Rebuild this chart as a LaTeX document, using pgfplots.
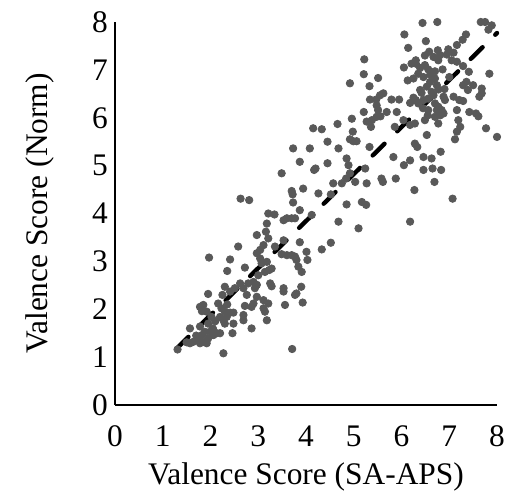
\documentclass[border=0pt]{standalone}
\usepackage{pgfplots}
\pgfplotsset{compat=1.18}
\usepackage{fontspec}
\setmainfont{Liberation Serif}
\definecolor{ptgray}{HTML}{595959}
\begin{document}
\begin{tikzpicture}[font=\fontsize{15.7}{18}\selectfont]
\begin{axis}[
  scale only axis, width=191pt, height=191.5pt,
  xmin=0, xmax=8, ymin=0, ymax=8,
  xtick={0,1,...,8}, ytick={0,1,...,8},
  axis lines=left, axis line style={-, line width=1pt, black},
  major tick length=0pt,
  /pgf/number format/assume math mode=true,
  tick label style={font=\fontsize{15.7}{18}\selectfont, black},
  xticklabel style={yshift=-7pt},
  xlabel={Valence Score (SA-APS)},
  ylabel={Valence Score (Norm)},
  xlabel style={at={(axis description cs:0.5,-0.188)}, anchor=center, font=\fontsize{15.7}{18}\selectfont},
  ylabel style={at={(axis description cs:-0.196,0.5)}, anchor=center, font=\fontsize{15.7}{18}\selectfont},
  clip=false,
]
\addplot[only marks, mark=*, mark size=1.85pt, mark options={draw=ptgray, fill=ptgray}] table {
x y
6.44 7.98
6.75 8.00
7.66 8.00
7.75 8.00
7.89 7.93
7.82 7.84
6.06 7.74
7.35 7.74
7.28 7.63
6.51 7.60
7.16 7.52
6.14 7.46
6.98 7.43
7.09 7.36
6.95 7.32
6.76 7.41
6.58 7.38
6.49 7.30
6.67 7.27
6.77 7.20
6.81 7.31
5.22 7.22
7.16 7.17
7.05 7.20
6.21 7.13
6.30 7.13
6.05 7.05
6.39 7.04
6.49 7.10
6.56 7.01
6.70 6.97
6.86 7.01
7.41 6.96
7.29 7.08
7.84 6.92
5.21 6.91
5.51 6.83
6.13 6.78
4.92 6.72
5.33 6.66
6.25 6.82
6.35 6.92
6.46 6.85
6.60 6.75
6.70 6.82
6.53 6.65
6.63 6.54
6.74 6.68
6.77 6.59
7.36 6.75
7.29 6.68
7.50 6.68
7.39 6.58
7.68 6.61
7.68 6.51
7.63 6.44
6.39 6.58
6.42 6.52
6.25 6.42
6.30 6.37
6.35 6.30
6.18 6.31
6.46 6.37
6.56 6.40
6.67 6.47
6.70 6.30
6.88 6.44
7.09 6.44
7.21 6.37
7.29 6.35
6.91 6.37
5.34 6.38
5.47 6.38
5.62 6.51
5.55 6.47
5.79 6.38
5.95 6.38
5.48 6.26
5.21 6.12
5.51 6.16
5.69 6.12
5.90 6.12
5.48 6.02
5.38 5.95
5.56 6.03
4.96 5.98
5.27 5.92
5.36 5.81
6.04 5.95
6.18 5.85
6.28 5.88
6.49 5.95
6.56 6.16
6.74 6.16
6.77 6.23
6.84 6.16
6.88 6.09
6.81 6.05
6.70 6.02
6.77 5.88
7.16 6.16
7.42 6.12
7.56 6.09
7.61 6.03
7.19 5.95
7.23 5.81
7.16 5.71
6.53 5.64
7.12 5.55
4.66 5.87
4.15 5.78
4.33 5.76
5.86 5.81
7.77 5.78
8.00 5.60
4.98 5.71
4.92 5.55
5.06 5.51
4.99 5.51
3.73 5.36
4.08 5.36
4.45 5.50
4.68 5.36
5.33 5.39
6.28 5.46
6.33 5.39
3.87 5.08
4.17 4.91
4.20 4.94
4.45 5.05
4.89 5.01
4.85 5.15
5.24 4.94
5.83 5.18
6.05 5.01
6.18 5.11
6.46 5.18
6.63 5.15
6.82 5.29
6.65 4.94
6.83 4.91
6.46 4.91
3.49 4.84
4.92 4.84
5.03 4.66
5.27 4.63
5.58 4.73
5.61 4.66
5.88 4.73
4.57 4.63
4.75 4.63
4.84 4.73
3.70 4.47
3.72 4.40
3.94 4.52
4.26 4.42
4.52 4.40
2.63 4.31
2.81 4.28
3.73 4.23
4.85 4.19
5.17 4.24
5.26 4.18
6.27 4.49
6.69 4.66
7.07 4.31
3.21 4.00
3.34 3.98
3.87 4.07
4.12 3.97
3.53 3.86
3.60 3.90
3.70 3.90
3.77 3.90
4.68 3.83
6.18 3.83
5.10 3.69
2.97 3.55
3.18 3.79
3.16 3.62
3.21 3.48
3.35 3.31
3.53 3.44
3.87 3.40
4.33 3.25
4.52 3.39
2.58 3.31
1.97 3.08
2.41 3.04
3.11 3.34
3.04 3.24
2.97 3.17
3.49 3.15
3.60 3.13
3.70 3.13
3.77 3.10
3.80 3.03
3.84 2.89
3.91 2.78
4.01 3.20
4.03 3.03
3.04 3.06
3.07 2.96
3.18 2.99
3.28 2.85
3.23 2.82
3.14 2.78
3.00 2.71
2.72 2.87
2.35 2.80
2.30 2.47
2.41 2.37
2.51 2.44
2.62 2.54
2.69 2.44
2.79 2.54
2.90 2.57
2.97 2.51
2.93 2.44
2.76 2.30
3.25 2.54
3.28 2.48
3.53 2.44
3.53 2.37
3.90 2.47
3.77 2.30
3.80 2.33
1.95 2.32
2.97 2.26
3.11 2.19
3.21 2.12
2.90 2.12
2.86 2.05
2.72 2.07
3.56 2.09
3.93 2.14
1.78 2.05
1.85 2.09
1.92 1.95
1.82 1.96
2.16 2.12
2.23 2.02
2.30 1.95
2.41 1.93
2.48 1.93
2.20 1.84
2.27 1.77
2.34 1.84
2.30 1.70
2.02 1.84
3.11 2.02
3.14 1.95
2.69 1.88
2.69 1.77
3.18 1.77
2.48 1.70
1.57 1.60
1.78 1.64
1.88 1.53
1.99 1.53
2.06 1.46
2.13 1.50
1.82 1.46
1.95 1.39
1.75 1.39
1.85 1.32
1.64 1.32
1.57 1.29
1.50 1.31
1.78 1.29
1.92 1.29
2.20 1.50
2.86 1.60
2.46 1.50
1.31 1.16
2.27 1.08
3.71 1.17
1.70 1.45
2.05 1.60
2.10 1.75
1.95 1.70
2.25 2.30
2.35 2.10
6.45 6.20
6.60 6.90
6.90 6.60
6.30 7.20
7.00 6.85
6.55 6.05
};
\addplot[black, line width=2.2pt, line cap=round, dash pattern=on 8.3pt off 8.9pt] coordinates {(1.29,1.18) (8,7.77)};
\coordinate (ll) at (rel axis cs:0,0);
\coordinate (ur) at (rel axis cs:1,1);
\end{axis}
\pgfresetboundingbox
\path[use as bounding box] ([shift={(-57.5pt,-45.5pt)}]ll) rectangle ([shift={(8pt,11pt)}]ur);
\end{tikzpicture}
\end{document}
